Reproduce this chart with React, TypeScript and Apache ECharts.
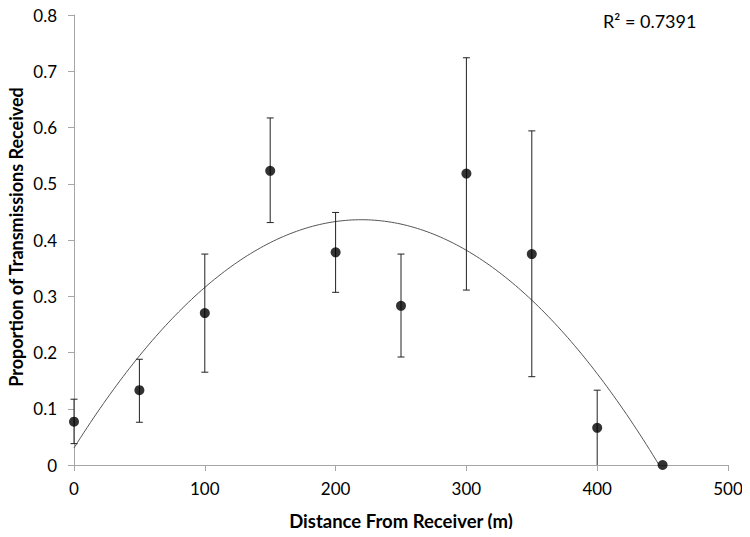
import React, { useEffect, useRef } from "react";
import * as echarts from "echarts";

const distances = [0, 50, 100, 150, 200, 250, 300, 350, 400, 450];
const proportions = [0.077, 0.133, 0.27, 0.523, 0.378, 0.283, 0.518, 0.375, 0.066, 0];
const errUpper = [0.117, 0.188, 0.375, 0.617, 0.449, 0.375, 0.724, 0.594, 0.133, 0];
const errLower = [0.038, 0.076, 0.165, 0.431, 0.307, 0.192, 0.311, 0.157, 0, 0];
const yTicks = [0, 0.1, 0.2, 0.3, 0.4, 0.5, 0.6, 0.7, 0.8];
const xTicks = [0, 100, 200, 300, 400, 500];
const rSquaredLabel = "R² = 0.7391";
const xTitle = "Distance From Receiver (m)";
const yTitle = "Proportion of Transmissions Received";

// least-squares quadratic trendline fitted to the data
function quadFit(xs: number[], ys: number[]) {
  const n = xs.length;
  const s = [0, 0, 0, 0, 0];
  const t = [0, 0, 0];
  for (let i = 0; i < n; i++) {
    const x = xs[i];
    for (let k = 0; k < 5; k++) s[k] += Math.pow(x, k);
    for (let k = 0; k < 3; k++) t[k] += Math.pow(x, k) * ys[i];
  }
  const M = [
    [s[0], s[1], s[2], t[0]],
    [s[1], s[2], s[3], t[1]],
    [s[2], s[3], s[4], t[2]],
  ];
  for (let c = 0; c < 3; c++) {
    for (let r = c + 1; r < 3; r++) {
      const f = M[r][c] / M[c][c];
      for (let k = c; k < 4; k++) M[r][k] -= f * M[c][k];
    }
  }
  const coef = [0, 0, 0];
  for (let r = 2; r >= 0; r--) {
    let v = M[r][3];
    for (let k = r + 1; k < 3; k++) v -= M[r][k] * coef[k];
    coef[r] = v / M[r][r];
  }
  return coef;
}

export default function App() {
  const ref = useRef<HTMLDivElement>(null);
  useEffect(() => {
    if (!ref.current) return;
    const chart = echarts.init(ref.current, undefined, { renderer: "svg" });
    const [c0, c1, c2] = quadFit(distances, proportions);
    const xMin = distances[0];
    const xMax = distances[distances.length - 1];
    const trend: number[][] = [];
    for (let i = 0; i <= 180; i++) {
      const x = xMin + ((xMax - xMin) * i) / 180;
      trend.push([x, c0 + c1 * x + c2 * x * x]);
    }
    const errData = distances.map((d, i) => [d, errLower[i], errUpper[i]]);
    const font = "Lato, 'Open Sans', sans-serif";
    chart.setOption({
      animation: false,
      backgroundColor: "#fff",
      textStyle: { fontFamily: font },
      grid: { left: 74, right: 22, top: 15, bottom: 72 },
      xAxis: {
        type: "value",
        min: 0,
        max: 500,
        interval: 100,
        name: xTitle,
        nameLocation: "middle",
        nameGap: 46,
        nameTextStyle: { fontSize: 18.5, fontWeight: "bold", color: "#000", fontFamily: font },
        axisLine: { lineStyle: { color: "#a6a6a6", width: 1 } },
        axisTick: { show: true, inside: false, length: 6, lineStyle: { color: "#a6a6a6" } },
        axisLabel: {
          fontSize: 17,
          color: "#000",
          margin: 15,
          formatter: (v: number) => (xTicks.includes(v) ? String(v) : ""),
        },
        splitLine: { show: false },
      },
      yAxis: {
        type: "value",
        min: 0,
        max: 0.8,
        interval: 0.1,
        axisLine: { show: true, lineStyle: { color: "#a6a6a6", width: 1 } },
        axisTick: { show: true, inside: false, length: 6, lineStyle: { color: "#a6a6a6" } },
        axisLabel: {
          fontSize: 17,
          color: "#000",
          margin: 17,
          formatter: (v: number) => {
            const t = yTicks.find((y) => Math.abs(y - v) < 1e-6);
            return t === undefined ? "" : t === 0 ? "0" : t.toFixed(1);
          },
        },
        splitLine: { show: false },
      },
      graphic: [
        {
          type: "text",
          x: 603,
          y: 21,
          style: {
            text: rSquaredLabel,
            fontSize: 18,
            fill: "#000",
            fontFamily: font,
            verticalAlign: "middle",
          },
        },
        {
          type: "text",
          x: 16,
          y: 237,
          rotation: Math.PI / 2,
          style: {
            text: yTitle,
            fontSize: 18,
            fontWeight: "bold",
            fill: "#000",
            fontFamily: font,
            align: "center",
            verticalAlign: "middle",
          },
        },
      ],
      series: [
        {
          type: "line",
          data: trend,
          showSymbol: false,
          symbol: "none",
          smooth: false,
          clip: true,
          lineStyle: { color: "#555", width: 1 },
          z: 2,
        },
        {
          type: "custom",
          data: errData,
          z: 3,
          renderItem: (params: any, api: any) => {
            const x = api.value(0);
            const lo = api.coord([x, api.value(1)]);
            const hi = api.coord([x, api.value(2)]);
            const hw = 3.5;
            const style = { stroke: "#222", lineWidth: 1 };
            const children: any[] = [
              { type: "line", shape: { x1: lo[0], y1: lo[1], x2: hi[0], y2: hi[1] }, style },
            ];
            if (api.value(2) > api.value(1)) {
              children.push({
                type: "line",
                shape: { x1: hi[0] - hw, y1: hi[1], x2: hi[0] + hw, y2: hi[1] },
                style,
              });
              if (api.value(1) > 0) {
                children.push({
                  type: "line",
                  shape: { x1: lo[0] - hw, y1: lo[1], x2: lo[0] + hw, y2: lo[1] },
                  style,
                });
              }
            }
            return { type: "group", children };
          },
        },
        {
          type: "scatter",
          data: distances.map((d, i) => [d, proportions[i]]),
          symbol: "circle",
          symbolSize: 10,
          itemStyle: { color: "#000" },
          clip: false,
          z: 4,
        },
      ],
    });
    return () => chart.dispose();
  }, []);
  return <div ref={ref} style={{ width: 750, height: 537, margin: -8 }} />;
}
